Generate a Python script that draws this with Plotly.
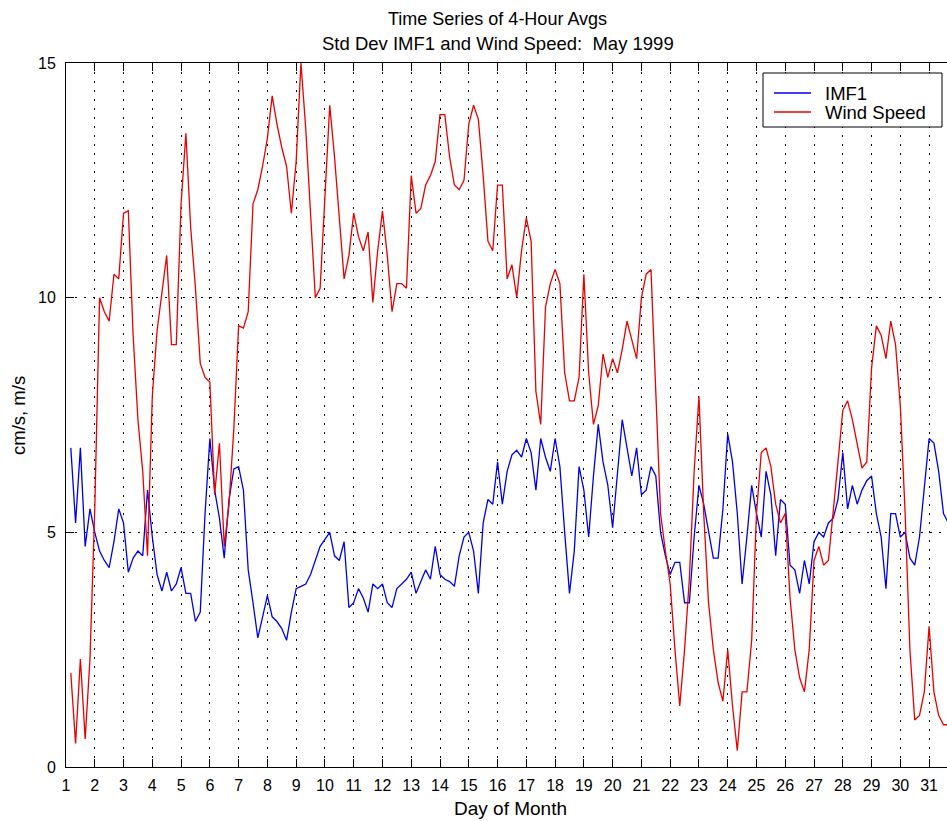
import plotly.graph_objects as go

# 4-hour averages, six samples per day, starting at 04:00 on 1 May
STEP_HOURS = 4

imf1 = [
    6.8, 5.2, 6.8, 4.7, 5.5, 5.0,      # day 1
    4.6, 4.4, 4.25, 4.8, 5.5, 5.2,     # day 2
    4.15, 4.45, 4.6, 4.5, 5.9, 4.9,    # day 3
    4.1, 3.75, 4.15, 3.75, 3.9, 4.25,  # day 4
    3.7, 3.7, 3.1, 3.3, 5.4, 7.0,      # day 5
    5.9, 5.3, 4.45, 5.7, 6.35, 6.4,    # day 6
    5.9, 4.2, 3.5, 2.75, 3.2, 3.65,    # day 7
    3.2, 3.1, 2.95, 2.7, 3.3, 3.8,     # day 8
    3.85, 3.9, 4.1, 4.4, 4.7, 4.85,    # day 9
    5.0, 4.5, 4.4, 4.8, 3.4, 3.5,      # day 10
    3.8, 3.6, 3.3, 3.9, 3.8, 3.9,      # day 11
    3.5, 3.4, 3.8, 3.9, 4.0, 4.15,     # day 12
    3.7, 3.95, 4.2, 4.0, 4.7, 4.1,     # day 13
    4.0, 3.95, 3.85, 4.5, 4.9, 5.0,    # day 14
    4.6, 3.7, 5.2, 5.7, 5.6, 6.5,      # day 15
    5.6, 6.3, 6.65, 6.75, 6.6, 7.0,    # day 16
    6.7, 5.9, 7.0, 6.6, 6.3, 7.0,      # day 17
    6.4, 5.0, 3.7, 4.6, 6.4, 5.9,      # day 18
    4.9, 6.2, 7.3, 6.5, 6.0, 5.1,      # day 19
    6.2, 7.4, 6.8, 6.2, 6.8, 5.8,      # day 20
    5.9, 6.4, 6.2, 5.0, 4.5, 4.1,      # day 21
    4.36, 4.36, 3.5, 3.5, 4.9, 6.0,    # day 22
    5.6, 5.0, 4.45, 4.45, 5.5, 7.1,    # day 23
    6.5, 5.4, 3.9, 4.9, 6.0, 5.4,      # day 24
    4.9, 6.3, 5.8, 4.5, 5.7, 5.6,      # day 25
    4.3, 4.2, 3.7, 4.4, 3.9, 4.8,      # day 26
    5.0, 4.9, 5.2, 5.3, 5.7, 6.7,      # day 27
    5.5, 6.0, 5.6, 5.9, 6.1, 6.2,      # day 28
    5.4, 4.9, 3.8, 5.4, 5.4, 4.9,      # day 29
    5.0, 4.45, 4.3, 4.9, 6.0, 7.0,     # day 30
    6.9, 6.3, 5.4, 5.2, 5.6,           # day 31
]

wind_speed = [
    2.0, 0.5, 2.3, 0.6, 2.3, 5.5,         # day 1
    10.0, 9.7, 9.5, 10.5, 10.4, 11.8,     # day 2
    11.85, 9.2, 7.4, 6.3, 4.5, 7.9,       # day 3
    9.3, 10.1, 10.9, 9.0, 9.0, 12.0,      # day 4
    13.5, 11.5, 10.2, 8.6, 8.3, 8.2,      # day 5
    5.8, 6.9, 4.7, 5.6, 7.2, 9.4,         # day 6
    9.35, 9.7, 12.0, 12.3, 12.8, 13.4,    # day 7
    14.3, 13.7, 13.2, 12.8, 11.8, 12.9,   # day 8
    15.0, 13.6, 11.9, 10.0, 10.2, 12.2,   # day 9
    14.1, 13.0, 11.6, 10.4, 10.9, 11.8,   # day 10
    11.3, 11.0, 11.4, 9.9, 11.0, 11.85,   # day 11
    10.9, 9.7, 10.3, 10.3, 10.2, 12.6,    # day 12
    11.8, 11.9, 12.4, 12.6, 12.9, 13.9,   # day 13
    13.9, 13.0, 12.4, 12.3, 12.5, 13.7,   # day 14
    14.1, 13.8, 12.6, 11.2, 11.0, 12.4,   # day 15
    12.4, 10.4, 10.7, 10.0, 11.0, 11.7,   # day 16
    11.2, 8.0, 7.3, 9.8, 10.3, 10.6,      # day 17
    10.3, 8.4, 7.8, 7.8, 8.3, 10.5,       # day 18
    8.4, 7.3, 7.7, 8.8, 8.3, 8.7,         # day 19
    8.4, 8.9, 9.5, 9.1, 8.7, 10.0,        # day 20
    10.5, 10.6, 8.0, 5.4, 4.6, 3.9,       # day 21
    2.5, 1.3, 2.5, 4.0, 6.3, 7.9,         # day 22
    5.4, 3.5, 2.5, 1.8, 1.4, 2.5,         # day 23
    1.3, 0.35, 1.6, 1.6, 2.7, 5.4,        # day 24
    6.7, 6.8, 6.4, 5.6, 5.2, 5.4,         # day 25
    3.6, 2.5, 1.9, 1.6, 2.5, 4.4,         # day 26
    4.7, 4.3, 4.4, 5.4, 6.5, 7.6,         # day 27
    7.8, 7.4, 6.85, 6.37, 6.5, 8.5,       # day 28
    9.4, 9.2, 8.7, 9.5, 9.0, 7.7,         # day 29
    5.4, 2.5, 1.0, 1.1, 1.6, 3.0,         # day 30
    1.6, 1.1, 0.9, 0.9, 1.0,              # day 31
]

series_names = ["IMF1", "Wind Speed"]
series_colors = ["#0000e6", "#e60000"]

day_ticks = list(range(1, 32))
day_labels = [str(d) for d in day_ticks]
y_ticks = [0, 5, 10, 15]

# time of each average, in days of the month
days = [1 + (k + 1) * STEP_HOURS / 24 for k in range(len(imf1))]

FONT = "Liberation Sans, Arial, Helvetica, sans-serif"

# pixel geometry of the axes box inside the 947x821 page
W, H = 947, 821
L, R, T, B = 66, 0, 63, 54
PW, PH = W - L - R, H - T - B
X_MAX = 1 + PW / 28.77


def px(x):
    return (x - L) / PW


def py(y):
    return (H - B - y) / PH


fig = go.Figure()
for name, values, color in zip(series_names, [imf1, wind_speed], series_colors):
    fig.add_trace(go.Scatter(x=days, y=values, mode="lines", name=name,
                             line=dict(color=color, width=1.3), showlegend=False))

axis_common = dict(
    showline=True, linecolor="black", linewidth=1,
    ticks="inside", ticklen=8, tickcolor="black", tickwidth=1,
    showgrid=True, gridcolor="black", gridwidth=1, griddash="2px,7px",
    zeroline=False,
    tickfont=dict(family=FONT, size=16, color="black"),
)

fig.update_xaxes(range=[1, X_MAX], tickvals=day_ticks, ticktext=day_labels,
                 mirror="ticks", ticklabelstandoff=4, **axis_common)
fig.update_yaxes(range=[0, 15], tickvals=y_ticks, mirror=False,
                 ticklabelstandoff=6, **axis_common)

# titles
annotations = [
    dict(text="Time Series of 4-Hour Avgs", x=px(497), y=py(19), size=18),
    dict(text="Std Dev IMF1 and Wind Speed:\u00a0 May 1999", x=px(498), y=py(44), size=18.5),
    dict(text="Day of Month", x=px(510), y=py(808), size=19),
]
for a in annotations:
    fig.add_annotation(text=a["text"], x=a["x"], y=a["y"], xref="paper", yref="paper",
                       xanchor="center", yanchor="middle", showarrow=False,
                       font=dict(family=FONT, size=a["size"], color="black"))
fig.add_annotation(text="cm/s, m/s", x=px(18), y=py(416), xref="paper", yref="paper",
                   xanchor="center", yanchor="middle", showarrow=False, textangle=-90,
                   font=dict(family=FONT, size=18.5, color="black"))

# boxed key in the upper right corner
fig.add_shape(type="rect", xref="paper", yref="paper",
              x0=px(763), x1=px(942), y0=py(127), y1=py(73),
              line=dict(color="black", width=1), fillcolor="white", layer="above")
for row, (name, color) in enumerate(zip(series_names, series_colors)):
    y_row = 93 + 19 * row
    fig.add_shape(type="line", xref="paper", yref="paper",
                  x0=px(774), x1=px(811), y0=py(y_row), y1=py(y_row),
                  line=dict(color=color, width=1.3), layer="above")
    fig.add_annotation(text=name, x=px(823), y=py(y_row + 0.5), xref="paper", yref="paper",
                       xanchor="left", yanchor="middle", showarrow=False,
                       font=dict(family=FONT, size=18.5, color="black"))

fig.update_layout(
    width=W, height=H,
    margin=dict(l=L, r=R, t=T, b=B, pad=0),
    paper_bgcolor="white", plot_bgcolor="white",
    font=dict(family=FONT, color="black"),
    showlegend=False,
)

fig.write_html("out.html")
